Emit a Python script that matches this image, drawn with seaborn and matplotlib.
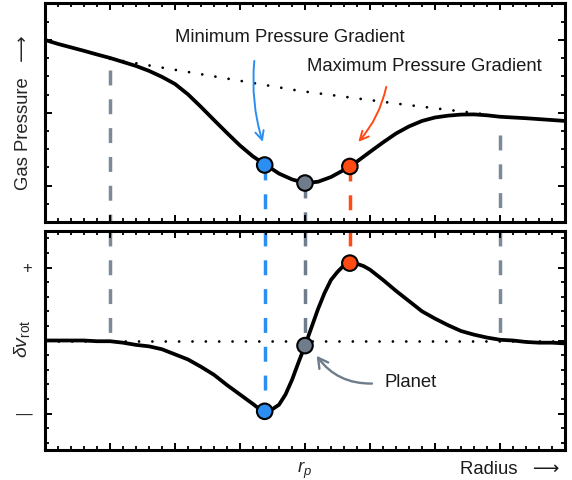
import matplotlib
matplotlib.use("Agg")
import matplotlib.pyplot as plt
import seaborn as sns
from matplotlib.ticker import MultipleLocator, FixedLocator

# ---------------- data ----------------
radius_top = [0.0, 0.2, 0.4, 0.6, 0.8, 1.0, 1.2, 1.4, 1.6, 1.8, 2.0, 2.2, 2.4,
              2.6, 2.8, 3.0, 3.2, 3.4, 3.6, 3.8, 4.0, 4.2, 4.4, 4.6, 4.8, 5.0,
              5.2, 5.4, 5.6, 5.8, 6.0, 6.2, 6.4, 6.6, 6.8, 7.0, 7.2, 7.4, 7.6,
              7.8, 8.0]
pressure = [10.0, 9.78, 9.59, 9.40, 9.20, 9.01, 8.79, 8.57, 8.30, 7.97, 7.58,
            7.01, 6.32, 5.60, 4.89, 4.20, 3.60, 3.13, 2.66, 2.34, 2.14, 2.21,
            2.47, 2.86, 3.32, 3.85, 4.37, 4.86, 5.25, 5.55, 5.74, 5.84, 5.90,
            5.91, 5.86, 5.78, 5.74, 5.70, 5.65, 5.60, 5.55]

unperturbed_x = [1.0, 2.38, 3.92, 5.46, 6.85]
unperturbed_p = [8.96, 8.13, 7.20, 6.48, 5.88]

radius_bot = [0.0, 0.2, 0.4, 0.6, 0.8, 1.0, 1.2, 1.4, 1.6, 1.8, 2.0, 2.2, 2.4,
              2.6, 2.8, 3.0, 3.2, 3.3, 3.4, 3.5, 3.6, 3.7, 3.8, 3.9, 4.0, 4.1,
              4.2, 4.3, 4.4, 4.5, 4.6, 4.7, 4.8, 4.9, 5.0, 5.2, 5.4, 5.6, 5.8,
              6.0, 6.2, 6.4, 6.6, 6.8, 7.0, 7.2, 7.4, 7.6, 7.8, 8.0]
dv_rot = [0.0, 0.0, 0.0, 0.0, -0.01, -0.01, -0.03, -0.06, -0.08, -0.12, -0.19,
          -0.26, -0.36, -0.47, -0.61, -0.74, -0.87, -0.94, -0.97, -0.94, -0.88,
          -0.74, -0.54, -0.30, -0.07, 0.18, 0.43, 0.65, 0.83, 0.94, 1.03, 1.06,
          1.05, 1.02, 0.97, 0.83, 0.68, 0.54, 0.40, 0.30, 0.21, 0.13, 0.08,
          0.04, 0.01, 0.0, -0.02, -0.03, -0.03, -0.04]

marker_names = ["min", "planet", "max"]
marker_x = [3.38, 4.0, 4.69]
marker_top = [3.13, 2.14, 3.05]
marker_bot = [-0.97, -0.07, 1.06]

edge_x = [1.0, 7.0]
edge_top_start = [8.35, 4.78]

xtick_labels = ["", "", "", "", "$r_p$", "", "", "", ""]
ytick_labels_bot = ["\u2014", "", "+"]

# ---------------- style ----------------
BLUE = "#2B8EF0"
RED = "#FF4A14"
SLATE = "#6F7C8C"
GUIDE = "#7C8998"
palette = {"min": BLUE, "planet": SLATE, "max": RED}

sns.set_theme(style="ticks")
plt.rcParams["font.family"] = ["Liberation Sans", "DejaVu Sans"]
plt.rcParams["mathtext.fontset"] = "custom"
plt.rcParams["mathtext.it"] = "Liberation Sans:italic"
plt.rcParams["mathtext.rm"] = "Liberation Sans"
plt.rcParams["mathtext.sf"] = "Liberation Sans"

FS = 13.3
fig = plt.figure(figsize=(5.72, 4.8), dpi=100)
ax1 = fig.add_axes([0.07867, 0.5375, 0.90909, 0.45521])
ax2 = fig.add_axes([0.07867, 0.0625, 0.90909, 0.45625])

dash = (0, (4.3, 4.0))
dlw = 2.5

# ---------------- top panel ----------------
for x, y0 in zip(edge_x, edge_top_start):
    ax1.plot([x, x], [y0, 0], color=GUIDE, lw=dlw, linestyle=dash, zorder=1)
for x, y0, n in zip(marker_x, marker_top, marker_names):
    ax1.plot([x, x], [y0, 0], color=palette[n], lw=dlw, linestyle=dash, zorder=1)

sns.lineplot(x=unperturbed_x, y=unperturbed_p, ax=ax1, color="black", lw=2.0,
             linestyle=(0, (0.01, 4.8)), dash_capstyle="round", zorder=2)
sns.lineplot(x=radius_top, y=pressure, ax=ax1, color="black", lw=2.7,
             solid_joinstyle="round", solid_capstyle="round", zorder=3)
sns.scatterplot(x=marker_x, y=marker_top, hue=marker_names, palette=palette,
                s=125, edgecolor="black", linewidth=1.5, legend=False, ax=ax1,
                zorder=5, clip_on=False)

ax1.set_xlim(0, 8)
ax1.set_ylim(0, 12)
ax1.xaxis.set_major_locator(MultipleLocator(1))
ax1.xaxis.set_minor_locator(MultipleLocator(0.2))
ax1.yaxis.set_major_locator(FixedLocator([2, 6, 10]))
ax1.yaxis.set_minor_locator(MultipleLocator(1))
ax1.tick_params(labelleft=False, labelbottom=False)

ax1.text(3.77, 10.11, "Minimum Pressure Gradient", ha="center", va="center",
         fontsize=FS, color="#1a1a1a")
ax1.annotate("", xy=(3.35, 4.40), xytext=(3.22, 8.85),
             arrowprops=dict(arrowstyle="->,head_length=0.45,head_width=0.22",
                             color=BLUE, lw=1.4, shrinkA=0, shrinkB=0,
                             connectionstyle="arc3,rad=0.1", mutation_scale=14))
ax1.text(5.83, 8.52, "Maximum Pressure Gradient", ha="center", va="center",
         fontsize=FS, color="#1a1a1a")
ax1.annotate("", xy=(4.82, 4.40), xytext=(5.25, 7.42),
             arrowprops=dict(arrowstyle="->,head_length=0.45,head_width=0.22",
                             color=RED, lw=1.4, shrinkA=0, shrinkB=0,
                             connectionstyle="arc3,rad=-0.13", mutation_scale=14))
ax1.set_ylabel("Gas Pressure   \u27f6", fontsize=FS)
ax1.yaxis.set_label_coords(-0.025, 0.5)
ax1.set_xlabel("")

# ---------------- bottom panel ----------------
for x in edge_x:
    ax2.plot([x, x], [1.5, 0], color=GUIDE, lw=dlw, linestyle=dash, zorder=1)
for x, y1, n in zip(marker_x, marker_bot, marker_names):
    ax2.plot([x, x], [1.5, y1], color=palette[n], lw=dlw, linestyle=dash, zorder=1)

ax2.axhline(0, color="black", lw=2.0, linestyle=(0, (0.01, 4.8)),
            dash_capstyle="round", zorder=2)
sns.lineplot(x=radius_bot, y=dv_rot, ax=ax2, color="black", lw=2.7,
             solid_joinstyle="round", solid_capstyle="round", zorder=3)
sns.scatterplot(x=marker_x, y=marker_bot, hue=marker_names, palette=palette,
                s=125, edgecolor="black", linewidth=1.5, legend=False, ax=ax2,
                zorder=5, clip_on=False)

ax2.set_xlim(0, 8)
ax2.set_ylim(-1.5, 1.5)
ax2.set_xticks(range(9), xtick_labels, fontsize=13.5)
ax2.xaxis.set_minor_locator(MultipleLocator(0.2))
ax2.set_yticks([-1, 0, 1], ytick_labels_bot, fontsize=12)
ax2.yaxis.set_minor_locator(MultipleLocator(0.2))

ax2.text(5.62, -0.578, "Planet", ha="center", va="center", fontsize=FS,
         color="#1a1a1a")
ax2.annotate("", xy=(4.18, -0.21), xytext=(5.03, -0.59),
             arrowprops=dict(arrowstyle="->,head_length=0.5,head_width=0.28",
                             color=SLATE, lw=1.7, shrinkA=0, shrinkB=0,
                             connectionstyle="arc3,rad=-0.26", mutation_scale=14))
ax2.set_ylabel(r"$\delta v_{\rm rot}$", fontsize=14)
ax2.yaxis.set_label_coords(-0.025, 0.51)
ax2.set_xlabel("")
ax2.text(0.99, -0.091, "Radius   \u27f6", transform=ax2.transAxes,
         ha="right", va="center", fontsize=FS, color="#1a1a1a")

# ---------------- frames & ticks ----------------
for ax in (ax1, ax2):
    for sp in ax.spines.values():
        sp.set_linewidth(2.2)
        sp.set_color("black")
        sp.set_visible(True)
        sp.set_zorder(6)
    ax.tick_params(which="both", direction="in", top=True, right=True,
                   bottom=True, left=True, color="black")
    ax.tick_params(which="major", length=5.2, width=1.4)
    ax.tick_params(which="minor", length=3.2, width=1.3)
    ax.set_facecolor("white")
    ax.set_axisbelow(False)
ax2.tick_params(axis="y", which="major", pad=9)
ax2.tick_params(axis="x", which="major", pad=7)

fig.savefig("out.png", dpi=100)
